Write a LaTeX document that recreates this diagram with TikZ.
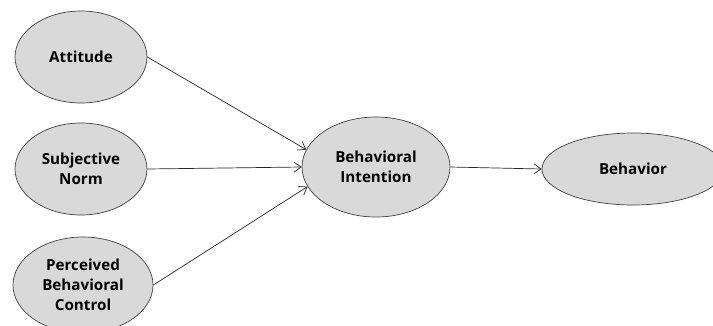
\documentclass[tikz,border=0pt]{standalone}
\usepackage{fontspec}
\setmainfont{Open Sans}
\usetikzlibrary{shapes.geometric,arrows.meta}
\tikzset{
  construct/.style={ellipse, draw=black!75, fill=black!15, line width=0.7pt, inner sep=0pt, align=center, font=\fontsize{15.2}{20}\selectfont\bfseries},
  link/.style={draw=black!85, line width=0.7pt, -{Straight Barb[length=7pt,width=10pt]}}
}
\begin{document}
\begin{tikzpicture}[x=1pt,y=-1pt]
  \useasboundingbox (0,0) rectangle (713,325);
  \clip (0,0) rectangle (713,325);
  \node[construct, minimum width=132pt, minimum height=92pt] (att) at (81,57) {Attitude};
  \node[construct, minimum width=132pt, minimum height=92pt] (sn) at (81,169) {Subjective\\Norm};
  \node[construct, minimum width=140pt, minimum height=96pt] (pbc) at (83,285) {Perceived\\Behavioral\\Control};
  \node[construct, minimum width=148pt, minimum height=100pt] (bi) at (376,167) {Behavioral\\Intention};
  \node[construct, minimum width=182pt, minimum height=72pt] (beh) at (633,169) {Behavior};
  \foreach \src/\dst in {att/bi.166, sn/bi.west, pbc/bi.196}
    \draw[link] (\src.east) -- (\dst);
  \draw[link] (bi.east) -- (beh.west);
\end{tikzpicture}
\end{document}
